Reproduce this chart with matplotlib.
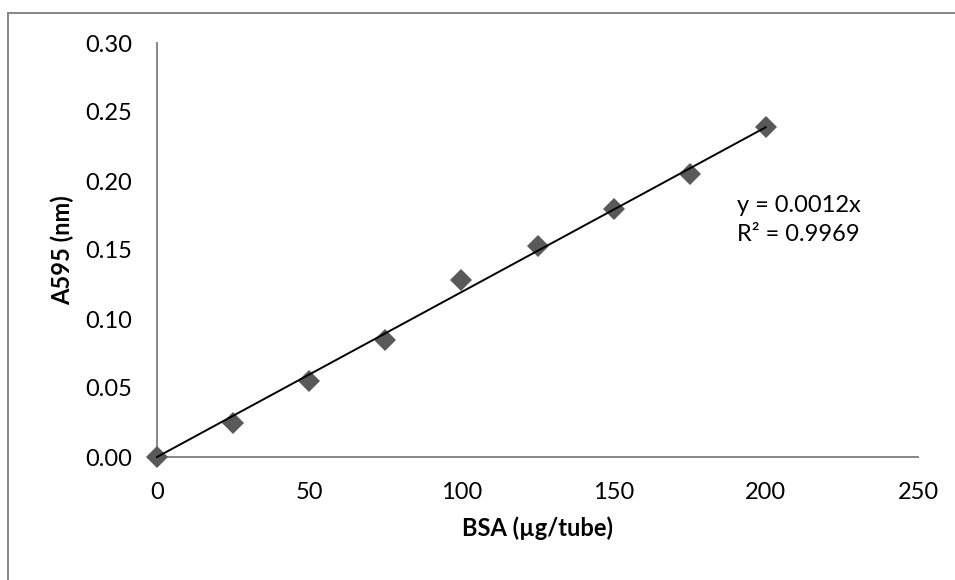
import numpy as np
import matplotlib
matplotlib.use("Agg")
import matplotlib.pyplot as plt
from matplotlib.lines import Line2D

plt.rcParams['font.family'] = ['Lato', 'DejaVu Sans']

bsa = np.array([0, 25, 50, 75, 100, 125, 150, 175, 200])
a595 = np.array([0.0, 0.025, 0.055, 0.085, 0.128, 0.153, 0.180, 0.205, 0.239])
x_ticks = [0, 50, 100, 150, 200, 250]
y_ticks = [0.00, 0.05, 0.10, 0.15, 0.20, 0.25, 0.30]
eq_text = "y = 0.0012x"
r2_text = "R² = 0.9969"
x_label = "BSA (µg/tube)"
y_label = "A595 (nm)"

W, H = 955, 580
fig = plt.figure(figsize=(W / 100, H / 100), dpi=100)
ax = fig.add_axes([157 / W, 1 - 457 / H, (918 - 157) / W, (457 - 43) / H])

slope = np.sum(bsa * a595) / np.sum(bsa * bsa)
xfit = np.array([bsa.min(), bsa.max()])
ax.plot(xfit, slope * xfit, color='black', lw=1.4, zorder=3, clip_on=False)
ax.plot(bsa, a595, linestyle='none', marker='D', markersize=11,
        color='#595959', markeredgewidth=0, zorder=2, clip_on=False)

ax.set_xlim(0, 250)
ax.set_ylim(0, 0.30)
ax.set_xticks(x_ticks)
ax.set_yticks(y_ticks)
ax.set_xticklabels([str(v) for v in x_ticks])
ax.set_yticklabels([f"{v:.2f}" for v in y_ticks])
ax.tick_params(length=0, labelsize=17, colors='black')
ax.tick_params(axis='x', pad=18)
ax.tick_params(axis='y', pad=18)
for s in ['top', 'right']:
    ax.spines[s].set_visible(False)
for s in ['left', 'bottom']:
    ax.spines[s].set_color('#868686')
    ax.spines[s].set_linewidth(1.4)
    ax.spines[s].set_zorder(1)
ax.patch.set_alpha(0)

ax.text(190.5, 0.1826, eq_text, fontsize=17, va='center', ha='left')
ax.text(190.5, 0.1610, r2_text, fontsize=17, va='center', ha='left')

fig.text(537 / W, 1 - 528 / H, x_label, fontsize=17, fontweight='bold',
         ha='center', va='center')
fig.text(62 / W, 1 - 250 / H, y_label, fontsize=17, fontweight='bold',
         ha='center', va='center', rotation=90)

# outer chart-area border (top and left visible)
fig.add_artist(Line2D([8 / W, 1.0], [1 - 13 / H, 1 - 13 / H],
                      transform=fig.transFigure, color='#878787', lw=1.4))
fig.add_artist(Line2D([8 / W, 8 / W], [0.0, 1 - 13 / H],
                      transform=fig.transFigure, color='#878787', lw=1.4))

fig.savefig("out.png", dpi=100)
